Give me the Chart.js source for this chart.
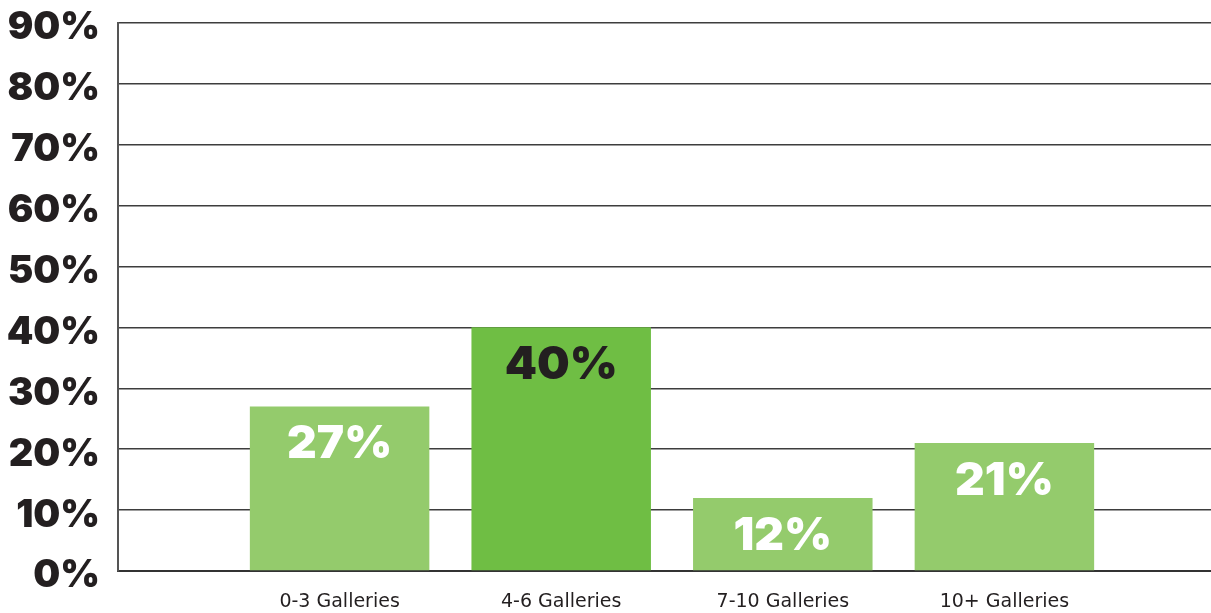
<!DOCTYPE html>
<html>
<head>
<meta charset="utf-8">
<script src="https://cdn.jsdelivr.net/npm/chart.js@4"></script>
<style>
  html, body { margin: 0; padding: 0; background: #fff; overflow: hidden; width: 1211px; height: 613px; position: relative; }
  #wrap { position: absolute; left: 0; top: -18px; width: 1246px; height: 631px; }
</style>
</head>
<body>
<div id="wrap"><canvas id="galleryChart" width="1246" height="631"></canvas></div>
<script>
// categories (empty slots at both ends keep the spacing of the original)
const categories = ["", "0-3 Galleries", "4-6 Galleries", "7-10 Galleries", "10+ Galleries", ""];
const shares = [null, 27, 40, 12, 21, null];
const barColors = ["#94cb6c", "#94cb6c", "#6fbe44", "#94cb6c", "#94cb6c", "#94cb6c"];
const labelColors = ["#ffffff", "#ffffff", "#231f20", "#ffffff", "#ffffff", "#ffffff"];
const yTicks = [0, 10, 20, 30, 40, 50, 60, 70, 80, 90];

const ink = "#231f20";

// value labels inside the bars
const barLabels = {
  id: "barLabels",
  afterDatasetsDraw(chart) {
    const ctx = chart.ctx;
    const meta = chart.getDatasetMeta(0);
    ctx.save();
    ctx.font = "900 46px Inter";
    ctx.textAlign = "center";
    ctx.textBaseline = "middle";
    meta.data.forEach((bar, i) => {
      if (shares[i] == null) return;
      ctx.fillStyle = labelColors[i];
      ctx.fillText(shares[i] + "%", bar.x, bar.y + 38);
    });
    ctx.restore();
  }
};

new Chart(document.getElementById("galleryChart"), {
  type: "bar",
  data: {
    labels: categories,
    datasets: [{
      data: shares,
      backgroundColor: barColors,
      borderWidth: 0,
      categoryPercentage: 0.9,
      barPercentage: 0.9
    }]
  },
  options: {
    responsive: false,
    animation: false,
    layout: { padding: { top: 0, right: 3, bottom: 0, left: 0 } },
    plugins: { legend: { display: false }, tooltip: { enabled: false } },
    scales: {
      x: {
        offset: false,
        grid: { display: false, drawTicks: false },
        border: { display: true, color: "#333", width: 2 },
        ticks: {
          autoSkip: false,
          maxRotation: 0,
          padding: 20,
          color: ink,
          font: { family: "DejaVu Sans", size: 19 }
        },
        afterFit(scale) { scale.height = 42; }
      },
      y: {
        min: 0,
        max: 90,
        afterBuildTicks(scale) { scale.ticks = yTicks.map(v => ({ value: v })); },
        grid: { color: "#3d3d3d", lineWidth: 1.5, drawTicks: false },
        border: { display: true, color: "#555", width: 2 },
        ticks: {
          padding: 18,
          labelOffset: 5,
          color: ink,
          font: { family: "Inter", weight: "900", size: 38 },
          callback: v => v + "%"
        },
        afterFit(scale) { scale.width = 118; }
      }
    }
  },
  plugins: [barLabels]
});
</script>
</body>
</html>
